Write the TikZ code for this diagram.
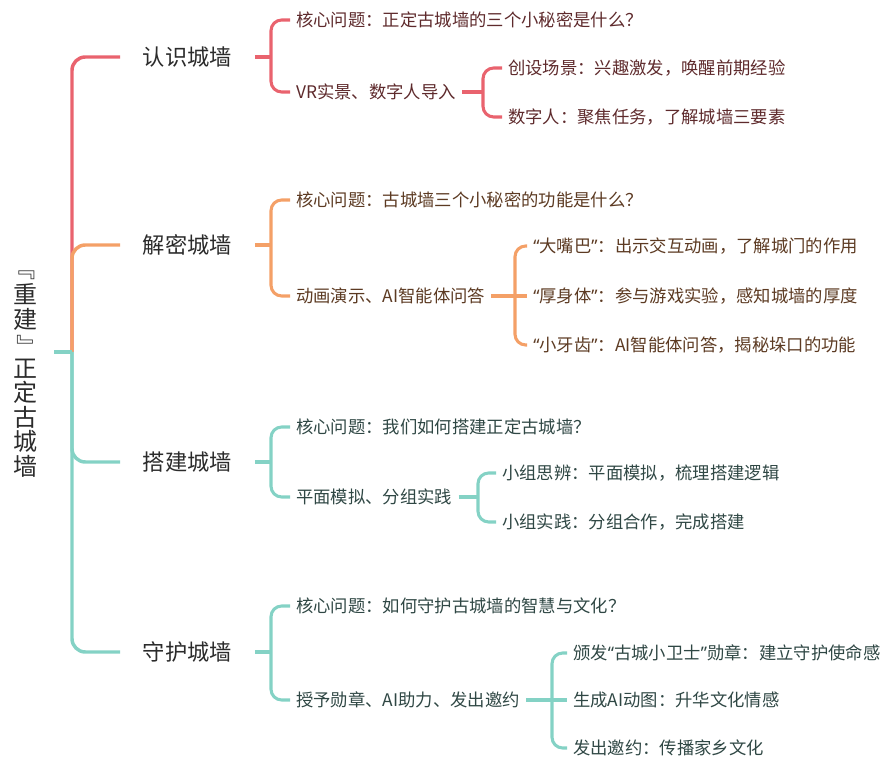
\documentclass[tikz,border=0pt]{standalone}
\usepackage{fontspec}
\setmainfont{Noto Sans CJK SC}
\newfontfamily\quotefont{Noto Sans}
\usepackage{tikz}
\usetikzlibrary{positioning}
\definecolor{qiangred}{HTML}{E9636E}
\definecolor{qiangorange}{HTML}{F4A067}
\definecolor{qiangteal}{HTML}{84D2C5}
\definecolor{redtext}{HTML}{5E2A2C}
\definecolor{orangetext}{HTML}{5C3A22}
\definecolor{tealtext}{HTML}{2F4744}
\definecolor{inkgray}{HTML}{2B2B2B}
\newcommand{\qopen}{{\quotefont “}}
\newcommand{\qclose}{{\quotefont ”}}
\newcommand{\vbrak}[1]{\rotatebox[origin=c]{-90}{#1}}

\begin{document}
\begin{tikzpicture}[
    x=0.75pt, y=-0.75pt,
    font=\fontsize{13}{15}\selectfont,
    title/.style={align=center, font=\fontsize{18}{18.4}\selectfont, text=inkgray, inner xsep=12.75pt},
    topic/.style={anchor=west, font=\fontsize{16.7}{20}\selectfont, text=inkgray, inner xsep=17pt},
    sub/.style={anchor=west, inner xsep=4.5pt},
    trunk/.style={line width=2.6pt, rounded corners=10pt},
    fork/.style={line width=2.3pt, rounded corners=8pt}
  ]
    \useasboundingbox (0,0) rectangle (882,762);
    % titre vertical
    \node[title] (root) at (25,367) {\vbrak{『}\\重\\建\\\vbrak{』}\\正\\定\\古\\城\\墙};
    \coordinate (hub) at (72,352);
    % branches principales
    \node[topic] (l1) at (120,57) {认识城墙};
    \node[topic] (l2) at (120,245) {解密城墙};
    \node[topic] (l3) at (120,462) {搭建城墙};
    \node[topic] (l4) at (120,652) {守护城墙};
    \draw[trunk, qiangred] (hub) |- (l1.west);
    \draw[trunk, qiangorange] (hub) |- (l2.west);
    \draw[trunk, qiangteal] (hub) |- (l3.west);
    \draw[trunk, qiangteal] (hub) |- (l4.west);
    \draw[trunk, qiangteal] (root.east |- hub) -- (hub);
    % 认识城墙
    \coordinate (f1) at (271,57);
    \coordinate (f12) at (483,92);
    \node[sub, text=redtext] (c11) at (290,20) {核心问题：正定古城墙的三个小秘密是什么？};
    \node[sub, text=redtext] (c12) at (290,92) {VR实景、数字人导入};
    \node[sub, text=redtext] (c121) at (502,68) {创设场景：兴趣激发，唤醒前期经验};
    \node[sub, text=redtext] (c122) at (502,117) {数字人：聚焦任务，了解城墙三要素};
    \draw[fork, qiangred] (l1.east) -- (f1);
    \draw[fork, qiangred] (c11.west) -| (f1) |- (c12.west);
    \draw[fork, qiangred] (c12.east) -- (f12);
    \draw[fork, qiangred] (c121.west) -| (f12) |- (c122.west);
    % 解密城墙
    \coordinate (f2) at (271,245);
    \coordinate (f22) at (515,296);
    \node[sub, text=orangetext] (c21) at (290,200) {核心问题：古城墙三个小秘密的功能是什么？};
    \node[sub, text=orangetext] (c22) at (290,296) {动画演示、AI智能体问答};
    \node[sub, text=orangetext] (c221) at (527,246) {\qopen 大嘴巴\qclose：出示交互动画，了解城门的作用};
    \node[sub, text=orangetext] (c222) at (527,296) {\qopen 厚身体\qclose：参与游戏实验，感知城墙的厚度};
    \node[sub, text=orangetext] (c223) at (527,345) {\qopen 小牙齿\qclose：AI智能体问答，揭秘垛口的功能};
    \draw[fork, qiangorange] (l2.east) -- (f2);
    \draw[fork, qiangorange] (c21.west) -| (f2) |- (c22.west);
    \draw[fork, qiangorange] (c22.east) -- (c222.west);
    \draw[fork, qiangorange] (c221.west) -| (f22) |- (c223.west);
    % 搭建城墙
    \coordinate (f3) at (271,462);
    \coordinate (f32) at (478,497);
    \node[sub, text=tealtext] (c31) at (290,427) {核心问题：我们如何搭建正定古城墙？};
    \node[sub, text=tealtext] (c32) at (290,497) {平面模拟、分组实践};
    \node[sub, text=tealtext] (c321) at (496,473) {小组思辨：平面模拟，梳理搭建逻辑};
    \node[sub, text=tealtext] (c322) at (496,522) {小组实践：分组合作，完成搭建};
    \draw[fork, qiangteal] (l3.east) -- (f3);
    \draw[fork, qiangteal] (c31.west) -| (f3) |- (c32.west);
    \draw[fork, qiangteal] (c32.east) -- (f32);
    \draw[fork, qiangteal] (c321.west) -| (f32) |- (c322.west);
    % 守护城墙
    \coordinate (f4) at (271,652);
    \coordinate (f42) at (552,700);
    \node[sub, text=tealtext] (c41) at (290,606) {核心问题：如何守护古城墙的智慧与文化？};
    \node[sub, text=tealtext] (c42) at (290,700) {授予勋章、AI助力、发出邀约};
    \node[sub, text=tealtext] (c421) at (567,653) {颁发\qopen 古城小卫士\qclose 勋章：建立守护使命感};
    \node[sub, text=tealtext] (c422) at (567,700) {生成AI动图：升华文化情感};
    \node[sub, text=tealtext] (c423) at (567,748) {发出邀约：传播家乡文化};
    \draw[fork, qiangteal] (l4.east) -- (f4);
    \draw[fork, qiangteal] (c41.west) -| (f4) |- (c42.west);
    \draw[fork, qiangteal] (c42.east) -- (c422.west);
    \draw[fork, qiangteal] (c421.west) -| (f42) |- (c423.west);
\end{tikzpicture}
\end{document}
